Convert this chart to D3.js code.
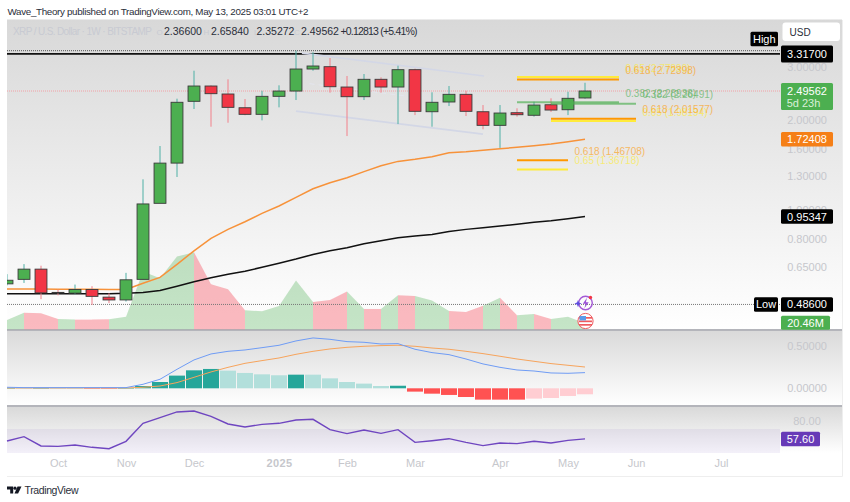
<!DOCTYPE html>
<html><head><meta charset="utf-8">
<script src="https://cdn.jsdelivr.net/npm/d3@7"></script>
<style>
html,body{margin:0;padding:0;background:#fff;overflow:hidden}
text{font-family:"Liberation Sans",Arial,sans-serif}
svg{display:block}
</style></head><body>
<svg id="c" width="850" height="502"></svg>
<script>
// ---------- data ----------
const firstWeek = "2024-09-16";
const opens  = [.569,.589,.637,.533,.53,.545,.514,.503,.589,1.055,1.436,2.306,2.593,2.439,2.195,2.087,2.396,2.495,2.954,3.007,2.573,2.389,2.73,2.573,2.939,2.129,2.294,2.433,2.129,1.918,2.113,2.072,2.246,2.162,2.366];
const highs  = [.613,.662,.654,.545,.566,.559,.529,.619,1.268,1.637,2.353,2.916,2.607,2.73,2.347,2.501,2.607,3.40,3.358,3.214,2.80,2.843,2.772,3.03,2.961,2.471,2.593,2.501,2.241,2.241,2.186,2.299,2.36,2.482,2.6584];
const lows   = [.5625,.573,.506,.521,.525,.484,.491,.497,.589,1.288,1.291,2.174,1.898,1.957,2.072,1.993,2.202,2.329,2.916,2.464,1.767,2.329,2.464,1.937,2.075,1.898,2.224,2.06,1.861,1.613,2.05,2.05,2.125,2.075,2.35272];
const closes = [.585,.637,.531,.531,.545,.517,.503,.587,1.05,1.436,2.289,2.593,2.445,2.202,2.087,2.396,2.495,2.954,3.023,2.579,2.389,2.73,2.573,2.939,2.136,2.289,2.433,2.136,1.918,2.108,2.081,2.241,2.157,2.36,2.49562];
const ema50  = [.547,.547,.547,.546,.546,.546,.545,.545,.572,.598,.661,.733,.806,.864,.916,.977,1.034,1.104,1.18,1.235,1.284,1.345,1.408,1.455,1.478,1.508,1.555,1.567,1.584,1.603,1.621,1.641,1.663,1.692,1.72408];
const ema200 = [.527,.527,.527,.527,.527,.527,.527,.529,.533,.541,.559,.578,.596,.613,.627,.646,.666,.688,.713,.733,.75,.774,.792,.81,.821,.831,.85,.864,.875,.886,.898,.912,.923,.938,.95347];
const volumes= [31.8,56.8,54.6,35.2,33,33,34.1,43.2,196.7,174,247.9,262.6,153.5,136.4,64.8,61.4,79.6,166,93.2,100,128.5,69.4,69.4,116,113.7,97.8,62.5,59.1,80.7,108,47.8,52.3,35.2,43.2,20.46];
const macdLine=[.012,.008,.008,.008,.008,.008,.008,.008,.047,.106,.223,.333,.403,.434,.45,.477,.505,.556,.591,.575,.548,.54,.52,.524,.458,.419,.395,.344,.286,.246,.215,.203,.18,.176,.184];
const signalLine=[.004,.004,.004,.004,.004,.004,.004,.004,.012,.027,.067,.129,.192,.246,.293,.325,.356,.399,.434,.462,.481,.493,.501,.505,.493,.473,.458,.434,.407,.376,.344,.317,.29,.27,.25];
const macdHist=[.002,.002,.003,.002,.001,-.004,-.004,.002,.027,.074,.149,.211,.227,.207,.18,.164,.153,.16,.16,.117,.074,.055,.027,.03,-.039,-.063,-.078,-.102,-.133,-.133,-.133,-.121,-.114,-.09,-.07];
const rsi=[55,60.4,48.8,48.3,50,47.1,45.4,54.6,77.1,84.2,91.3,92.5,85.8,76.3,72.5,75.8,77.1,81.3,82.1,69.2,64.2,68.8,64.6,69.2,53.3,55.4,57.9,53.3,49.2,52.5,51.7,54.6,52.5,55.8,57.6];
const priceTicks=[3,2,1.6,1.3,1,0.8,0.65];
const macdTicks=[0.5,0];
const rsiTicks=[80];
const monthWeeks=[3,7,11,16,20,24,29,33,37,42];
const monthLabels=["Oct","Nov","Dec","2025","Feb","Mar","Apr","May","Jun","Jul"];
const fibLevels=["0.65","0.618","0.382","0.382","0.65","0.618","0.618","0.65"];
const fibPrices=[2.7789,2.72398,2.28938,2.26491,1.98194,2.01577,1.46708,1.36718];
const fibFrom=[30,30,30,32,32,32,30,30];
const fibTo=[36,36,36,37,37,37,33,33];
const chanFrom=[17.35,17,17.8];
const chanTo=[28.06,28,23.5];
const chanPriceA=[3.335,2.14,2.64];
const chanPriceB=[2.80,1.794,2.40];
const highLevel=3.317, topPrint=3.40, lowLevel=0.486, lastClose=2.49562, lastEma50=1.72408, lastEma200=0.95347, lastRsi=57.60;

// ---------- scales ----------
const week=i=>new Date(Date.parse(firstWeek+"T00:00:00Z")+i*7*864e5);
const x=d3.scaleUtc().domain([week(0),week(34)]).range([7,585]);
const X=i=>x(week(i));
const y=d3.scaleLog().domain([3,0.65]).range([67,266.5]);
const yVol=d3.scaleLinear().domain([0,20.46]).range([329.3,323.3]);
const yM=d3.scaleLinear().domain([0,0.5]).range([388.3,345.7]);
const yR=d3.scaleLinear().domain([80,70]).range([421,429]);
const L=7,R=842,PR=780;

const svg=d3.select("#c");
const defs=svg.append("defs");
function grad(id,a){const g=defs.append("linearGradient").attr("id",id).attr("x1",0).attr("x2",0).attr("y1",0).attr("y2",1);
 g.append("stop").attr("offset",0).attr("stop-color",a);g.append("stop").attr("offset",1).attr("stop-color","#fff");}
grad("g1","#d8d8d8");grad("g2","#dadada");grad("g3","#d9d9d9");
defs.append("clipPath").attr("id","clipMain").append("rect").attr("x",L).attr("y",50).attr("width",PR-L).attr("height",280);
defs.append("clipPath").attr("id","clipMacd").append("rect").attr("x",L).attr("y",331).attr("width",PR-L).attr("height",75);

// panes
svg.append("rect").attr("x",L).attr("y",19.5).attr("width",R-L).attr("height",310).attr("fill","url(#g1)");
svg.append("rect").attr("x",L).attr("y",331).attr("width",R-L).attr("height",75).attr("fill","url(#g2)");
svg.append("rect").attr("x",L).attr("y",407).attr("width",R-L).attr("height",46).attr("fill","url(#g3)");
svg.append("rect").attr("x",L).attr("y",429).attr("width",PR-L).attr("height",24).attr("fill","#7e57c2").attr("opacity",.09);
svg.append("path").attr("d",`M${L} 476.5H${R+.5}V20`).attr("fill","none").attr("stroke","#eeeeee");
[330,406].forEach(v=>svg.append("line").attr("x1",L).attr("x2",R).attr("y1",v).attr("y2",v).attr("stroke","#6a6d78").attr("stroke-width",1.2));

// title
svg.append("text").attr("x",7.5).attr("y",15).attr("font-size",9.8).attr("fill","#2a2e39").attr("textLength",301).text("Wave_Theory published on TradingView.com, May 13, 2025 03:01 UTC+2");

// volume (one straight piece per week, coloured by the later candle)
const gVol=svg.append("g");
const volArea=d3.area().x(d=>X(d)).y0(yVol(0)).y1(d=>yVol(volumes[d]));
d3.range(0,34).forEach(i=>{
 gVol.append("path").attr("d",volArea([i,i+1])).attr("fill",closes[i+1]>=opens[i+1]?"#4caf50":"#f23645").attr("opacity",closes[i+1]>=opens[i+1]?.32:.34);
});

// levels
const main=svg.append("g").attr("clip-path","url(#clipMain)");
main.append("line").attr("x1",L).attr("x2",PR).attr("y1",y(topPrint)).attr("y2",y(topPrint)).attr("stroke","#555").attr("stroke-dasharray","1 1");
main.append("line").attr("x1",L).attr("x2",PR).attr("y1",y(highLevel)).attr("y2",y(highLevel)).attr("stroke","#111").attr("stroke-width",1.7);
main.append("line").attr("x1",L).attr("x2",PR).attr("y1",y(lowLevel)).attr("y2",y(lowLevel)).attr("stroke","#777").attr("stroke-dasharray","1 1");
main.append("line").attr("x1",L).attr("x2",PR).attr("y1",y(lastClose)).attr("y2",y(lastClose)).attr("stroke","#f2a0a6").attr("stroke-dasharray","1 1");

// channel
chanFrom.forEach((f,i)=>{
 main.append("line").attr("x1",X(f)).attr("x2",X(chanTo[i])).attr("y1",y(chanPriceA[i])).attr("y2",y(chanPriceB[i]))
  .attr("stroke",i==2?"#e4e6ee":"#d3d7e6").attr("stroke-width",i==2?1:1.7).attr("stroke-dasharray",i==2?"5 4":null);
});

// moving averages
const ln=(arr,sc)=>d3.line().x((d,i)=>X(i)).y(d=>sc(d))(arr);
main.append("path").attr("d",ln(ema50,y)).attr("fill","none").attr("stroke","#f7923a").attr("stroke-width",1.5);
main.append("path").attr("d",ln(ema200,y)).attr("fill","none").attr("stroke","#111").attr("stroke-width",1.5);

// candles
const step=X(1)-X(0), bw=step*0.7;
const cg=main.append("g");
opens.forEach((o,i)=>{
 const c=closes[i],up=c>=o;
 cg.append("line").attr("x1",X(i)).attr("x2",X(i)).attr("y1",y(highs[i])).attr("y2",y(lows[i])).attr("stroke",up?"#4fb0a5":"#f2808a").attr("stroke-width",1);
 const top=y(Math.max(o,c)),bot=y(Math.min(o,c));
 cg.append("rect").attr("x",X(i)-bw/2).attr("y",top).attr("width",bw).attr("height",Math.max(bot-top,.6))
  .attr("fill",up?"#4caf50":"#f23645").attr("stroke","#3a3a3a").attr("stroke-width",.9);
});

// fib levels
const fibColor={"0.618":"#ff9800","0.65":"#ffeb3b","0.382":"#4caf50"};
fibPrices.forEach((p,i)=>{
 const col=fibColor[fibLevels[i]];
 svg.append("line").attr("x1",X(fibFrom[i])).attr("x2",X(fibTo[i])).attr("y1",y(p)).attr("y2",y(p))
  .attr("stroke",col).attr("stroke-width",2).attr("opacity",fibLevels[i]=="0.382"?.65:1);
 svg.append("text").attr("x",X(fibTo[i])+6.5).attr("y",y(p)-9+3.6).attr("font-size",10).attr("fill",col)
  .attr("opacity",fibLevels[i]=="0.65"?.65:.6).text(`${fibLevels[i]} (${p.toFixed(5)})`);
});

// icons
const ic=svg.append("g");
ic.append("circle").attr("cx",585.5).attr("cy",303).attr("r",6.8).attr("fill","none").attr("stroke","#a45ad6").attr("stroke-width",1.4);
ic.append("path").attr("d","M587 297.8l-4.2 6h2.8l-1.2 4.4 4.3-6h-2.8z").attr("fill","#9b4fd8");
ic.append("path").attr("d","M578 300l1 2.6 2.6 1-2.6 1-1 2.6-1-2.6-2.6-1 2.6-1z").attr("fill","#5f4de0");
ic.append("circle").attr("cx",590.5).attr("cy",297.5).attr("r",1.7).attr("fill","#f23645");
ic.append("circle").attr("cx",585.5).attr("cy",321).attr("r",7.6).attr("fill","#fff").attr("stroke","#ef5a5f").attr("stroke-width",1);
[317,320.5,324].forEach(v=>ic.append("rect").attr("x",579).attr("y",v).attr("width",13).attr("height",1.7).attr("fill","#ef5a5f"));
ic.append("rect").attr("x",579.5).attr("y",316).attr("width",6.5).attr("height",4.4).attr("fill","#5b9bea");

// MACD
const gm=svg.append("g").attr("clip-path","url(#clipMacd)");
macdHist.forEach((v,i)=>{
 const prev=i?macdHist[i-1]:0,rise=v>prev;
 const col=v>=0?(rise?"#26a69a":"#b2dfdb"):(rise?"#ffcdd2":"#ff5252");
 const a=yM(0),b=yM(v);
 gm.append("rect").attr("x",X(i)-8).attr("width",16).attr("y",Math.min(a,b)).attr("height",Math.max(Math.abs(a-b),.5)).attr("fill",col);
});
gm.append("path").attr("d",ln(signalLine,yM)).attr("fill","none").attr("stroke","#f7a45c").attr("stroke-width",1);
gm.append("path").attr("d",ln(macdLine,yM)).attr("fill","none").attr("stroke","#6f9cf5").attr("stroke-width",1);

// RSI
svg.append("path").attr("d",ln(rsi,yR)).attr("fill","none").attr("stroke","#6f46c0").attr("stroke-width",1.4);

// axes
function styleAxis(g){g.select(".domain").remove();g.selectAll("line").remove();
 g.selectAll("text").attr("fill","#c6c7cc").attr("font-size",11).attr("font-family",'"Liberation Sans",Arial,sans-serif');}
const gAxis=svg.append("g");
gAxis.append("g").attr("transform","translate(807,0)").call(d3.axisRight(y).tickValues(priceTicks).tickFormat(d3.format(".5f")).tickSize(0).tickPadding(0)).call(styleAxis).selectAll("text").attr("text-anchor","middle");
gAxis.append("g").attr("transform","translate(807,0)").call(d3.axisRight(yM).tickValues(macdTicks).tickFormat(d3.format(".5f")).tickSize(0).tickPadding(0)).call(styleAxis).selectAll("text").attr("text-anchor","middle");
gAxis.append("g").attr("transform","translate(807,0)").call(d3.axisRight(yR).tickValues(rsiTicks).tickFormat(d3.format(".2f")).tickSize(0).tickPadding(0)).call(styleAxis).selectAll("text").attr("text-anchor","middle");
const gx=gAxis.append("g").attr("transform","translate(0,459.5)").call(d3.axisBottom(x).tickValues(monthWeeks.map(week)).tickFormat((d,i)=>monthLabels[i]).tickSize(0).tickPadding(0)).call(styleAxis);
gx.selectAll("text").attr("font-weight",(d,i)=>monthLabels[i]=="2025"?"bold":"normal").attr("letter-spacing",(d,i)=>monthLabels[i]=="2025"?.4:0);

// boxes on the price column
function box(x0,x1,cy,h,fill,txt,sub){
 svg.append("rect").attr("x",x0).attr("y",cy-h/2).attr("width",x1-x0).attr("height",h).attr("rx",1.5).attr("fill",fill);
 svg.append("text").attr("x",(x0+x1)/2).attr("y",sub?cy-1.5:cy+4).attr("text-anchor","middle").attr("font-size",11).attr("fill","#fff").text(txt);
 if(sub)svg.append("text").attr("x",(x0+x1)/2-3.5).attr("y",cy+10.7).attr("text-anchor","middle").attr("font-size",11).attr("fill","#d9efd9").text(sub);
}
box(781,833,y(highLevel),17,"#000",d3.format(".5f")(highLevel));
box(750.5,778,39,14.5,"#000","High");
box(781,833,96.5,27,"#4caf50",d3.format(".5f")(lastClose),"5d 23h");
box(781,833,y(lastEma50),14.5,"#f57f17",d3.format(".5f")(lastEma50));
box(781,833,y(lastEma200),14.5,"#000",d3.format(".5f")(lastEma200));
box(754,778,y(lowLevel),14.5,"#000","Low");
box(781,833,y(lowLevel),14.5,"#000",d3.format(".5f")(lowLevel));
box(781,830,322.8,14,"#4caf50",d3.format(".2f")(volumes[34])+"M");
box(781,820,yR(lastRsi),14.5,"#673ab7",d3.format(".2f")(lastRsi));

// USD button
svg.append("rect").attr("x",782.5).attr("y",22.5).attr("width",57.5).attr("height",18.5).attr("rx",3).attr("fill","#fff");
svg.append("text").attr("x",789.5).attr("y",35.5).attr("font-size",10).attr("fill","#2a2e39").text("USD");

// legend row
const leg=svg.append("g").attr("font-size",10.5);
leg.append("text").attr("x",13).attr("y",35).attr("font-size",10).attr("fill","#c8cad2").attr("textLength",139).text("XRP / U.S. Dollar · 1W · BITSTAMP");
[["O",156.5,opens[34],164],["H",203.5,highs[34],211],["L",254,lows[34],256.5],["C",294,closes[34],301]].forEach(r=>{
 leg.append("text").attr("x",r[1]).attr("y",35).attr("font-size",8).attr("fill","#c8cad2").text(r[0]);
 leg.append("text").attr("x",r[3]).attr("y",35).attr("fill","#2a2e39").text(d3.format(".5f")(r[2]));
});
leg.append("text").attr("x",340.5).attr("y",35).attr("fill","#2a2e39").attr("textLength",77).text("+0.12813 (+5.41%)");

// footer logo
const lg=svg.append("g").attr("fill","#131722");
lg.append("path").attr("d","M7 486.5h6.2v7h-3v-4H7z");
lg.append("circle").attr("cx",15).attr("cy",488.2).attr("r",1.6);
lg.append("path").attr("d","M17.5 486.5h4l-3.4 7h-3.6z");
svg.append("text").attr("x",24.5).attr("y",494).attr("font-size",10.5).attr("fill","#2a2e39").attr("textLength",54).text("TradingView");
</script>
</body></html>
